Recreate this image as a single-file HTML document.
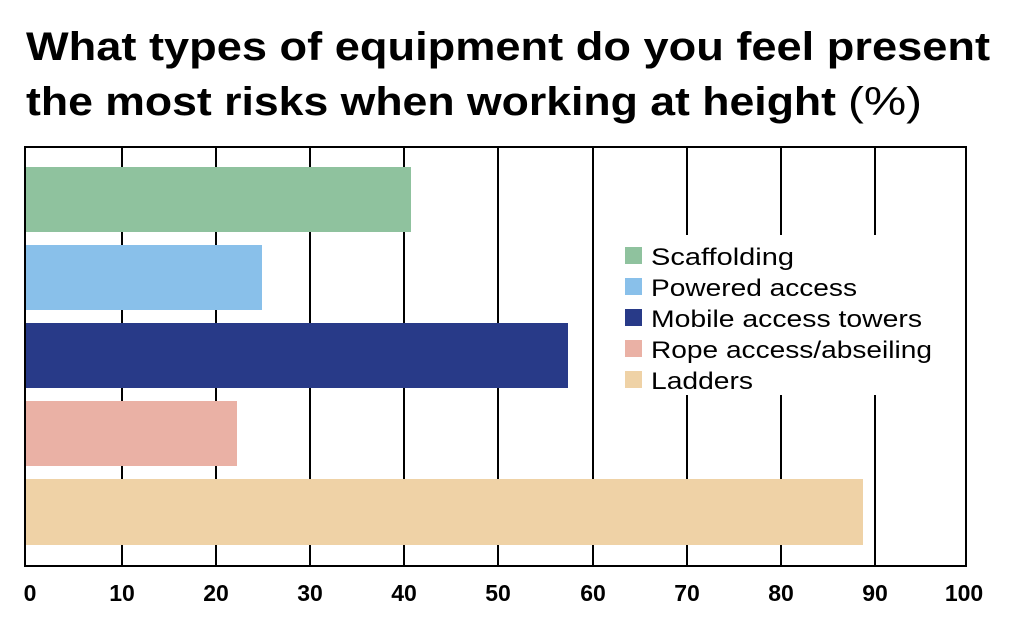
<!DOCTYPE html>
<html><head><style>
body{margin:0;background:#fff;width:1016px;height:638px;overflow:hidden;font-family:"Liberation Sans",sans-serif}
</style></head><body>
<svg width="1016" height="638" xmlns="http://www.w3.org/2000/svg" font-family="Liberation Sans, sans-serif">
<text x="26" y="60" font-size="40" font-weight="bold" fill="#000" textLength="964" lengthAdjust="spacingAndGlyphs">What types of equipment do you feel present</text>
<text x="26" y="115" font-size="40" font-weight="bold" fill="#000" textLength="810" lengthAdjust="spacingAndGlyphs">the most risks when working at height</text>
<text x="848" y="115" font-size="40" fill="#000" textLength="74" lengthAdjust="spacingAndGlyphs">(%)</text>
<g stroke="#000" stroke-width="2">
<line x1="122" y1="147" x2="122" y2="566"/><line x1="216" y1="147" x2="216" y2="566"/><line x1="310" y1="147" x2="310" y2="566"/><line x1="404" y1="147" x2="404" y2="566"/><line x1="498" y1="147" x2="498" y2="566"/><line x1="593" y1="147" x2="593" y2="566"/><line x1="687" y1="147" x2="687" y2="566"/><line x1="781" y1="147" x2="781" y2="566"/><line x1="875" y1="147" x2="875" y2="566"/>
</g>
<rect x="26" y="167" width="385" height="65" fill="#8fc29e"/>
<rect x="26" y="245" width="236" height="65" fill="#89c0ea"/>
<rect x="26" y="323" width="542" height="65" fill="#283a88"/>
<rect x="26" y="401" width="211" height="65" fill="#eab1a5"/>
<rect x="26" y="479" width="837" height="66" fill="#efd2a6"/>
<rect x="25" y="147" width="941" height="419" fill="none" stroke="#000" stroke-width="2"/>
<rect x="612" y="235" width="335" height="160" fill="#fff"/>
<g font-size="24" fill="#000" lengthAdjust="spacingAndGlyphs">
<rect x="625" y="247" width="17" height="17" fill="#8fc29e"/><text x="651" y="265" textLength="143" lengthAdjust="spacingAndGlyphs">Scaffolding</text>
<rect x="625" y="278" width="17" height="17" fill="#89c0ea"/><text x="651" y="296" textLength="206" lengthAdjust="spacingAndGlyphs">Powered access</text>
<rect x="625" y="309" width="17" height="17" fill="#283a88"/><text x="651" y="327" textLength="271" lengthAdjust="spacingAndGlyphs">Mobile access towers</text>
<rect x="625" y="340" width="17" height="17" fill="#eab1a5"/><text x="651" y="358" textLength="281" lengthAdjust="spacingAndGlyphs">Rope access/abseiling</text>
<rect x="625" y="371" width="17" height="17" fill="#efd2a6"/><text x="651" y="389" textLength="102" lengthAdjust="spacingAndGlyphs">Ladders</text>
</g>
<g font-size="23" font-weight="bold" fill="#000" text-anchor="middle">
<text x="30" y="601">0</text><text x="122" y="601">10</text><text x="216" y="601">20</text><text x="310" y="601">30</text><text x="404" y="601">40</text><text x="498" y="601">50</text><text x="593" y="601">60</text><text x="687" y="601">70</text><text x="781" y="601">80</text><text x="875" y="601">90</text><text x="964" y="601">100</text>
</g>
</svg>
</body></html>
